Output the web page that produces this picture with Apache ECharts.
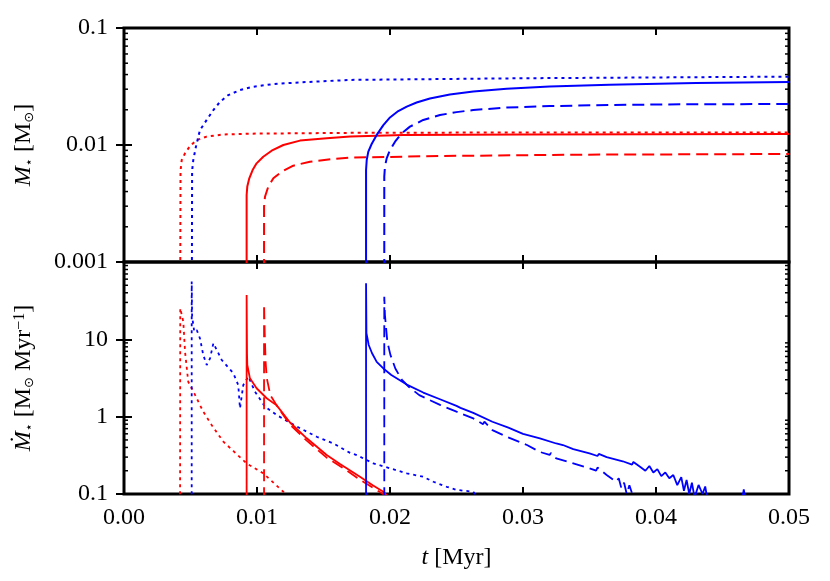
<!DOCTYPE html>
<html>
<head>
<meta charset="utf-8">
<script src="https://cdn.jsdelivr.net/npm/echarts@6/dist/echarts.min.js"></script>
<style>
  html, body { margin: 0; padding: 0; background: #fff; }
  #chart { width: 830px; height: 581px; }
</style>
</head>
<body>
<div id="chart"></div>
<script>
// ---- data: [t (Myr), value] ----
// top panel: stellar mass M* [Msun]
var massRedDotted = [[0.00421, 0.0001], [0.00425, 0.0060], [0.00434, 0.00745], [0.00459, 0.0085], [0.00496, 0.0098], [0.00547, 0.0110], [0.00622, 0.0118], [0.00747, 0.0123], [0.00947, 0.0125], [0.017, 0.0127], [0.030, 0.0128], [0.050, 0.0128]];
var massBlueDotted = [[0.00509, 0.0001], [0.00512, 0.0060], [0.00521, 0.00745], [0.00541, 0.0097], [0.00571, 0.0134], [0.00622, 0.0164], [0.00672, 0.0199], [0.00722, 0.0234], [0.00784, 0.0267], [0.00872, 0.0295], [0.00972, 0.0315], [0.01123, 0.0332], [0.01323, 0.0343], [0.017, 0.0360], [0.030, 0.0372], [0.050, 0.0384]];
var massRedSolid = [[0.00922, 0.0001], [0.00922, 0.00374], [0.00927, 0.00441], [0.00942, 0.00519], [0.00967, 0.00611], [0.00997, 0.00697], [0.01047, 0.00794], [0.0111, 0.00894], [0.01198, 0.0100], [0.01323, 0.0109], [0.01524, 0.0114], [0.017, 0.0118], [0.021, 0.0122], [0.030, 0.0123], [0.050, 0.0124]];
var massRedDashed = [[0.01053, 0.0001], [0.01053, 0.00297], [0.0106, 0.00361], [0.01085, 0.00441], [0.01123, 0.00519], [0.01186, 0.00591], [0.01273, 0.00666], [0.01398, 0.0072], [0.01574, 0.00759], [0.017, 0.0078], [0.02376, 0.00805], [0.03378, 0.00826], [0.050, 0.00838]];
var massBlueSolid = [[0.01820, 0.0001], [0.01820, 0.00611], [0.01825, 0.00745], [0.01837, 0.00877], [0.01862, 0.0102], [0.0190, 0.0122], [0.0195, 0.0148], [0.0200, 0.0172], [0.02062, 0.0195], [0.02126, 0.0213], [0.0220, 0.0231], [0.0230, 0.0250], [0.0245, 0.0270], [0.02626, 0.0286], [0.02877, 0.0303], [0.0320, 0.0316], [0.0365, 0.0328], [0.0430, 0.0339], [0.050, 0.0345]];
var massBlueDashed = [[0.01957, 0.0001], [0.01957, 0.00536], [0.01962, 0.00653], [0.01975, 0.00769], [0.0200, 0.00906], [0.02038, 0.01067], [0.02088, 0.01259], [0.0215, 0.01435], [0.0225, 0.01637], [0.02376, 0.01803], [0.0250, 0.0191], [0.02626, 0.0199], [0.02877, 0.0209], [0.0320, 0.0215], [0.0365, 0.0220], [0.0430, 0.0223], [0.050, 0.0224]];

// bottom panel: accretion rate dM*/dt [Msun/Myr]
var rateRedDotted = [[0.00421, 0.01], [0.00423, 25.2], [0.00446, 16.9], [0.00459, 6.9], [0.00483, 2.83], [0.00534, 1.91], [0.00596, 1.16], [0.00659, 0.78], [0.00747, 0.475], [0.00922, 0.249], [0.01047, 0.185], [0.01198, 0.107], [0.0122, 0.095]];
var rateBlueDotted = [[0.00509, 0.01], [0.00509, 56], [0.00512, 20], [0.00528, 12.6], [0.00547, 13.2], [0.00571, 10.3], [0.00596, 6.27], [0.00622, 4.66], [0.00647, 5.68], [0.00672, 8.9], [0.00735, 5.4], [0.00822, 3.64], [0.00859, 2.57], [0.00872, 1.28], [0.00897, 2.57], [0.00935, 3.3], [0.00985, 2.1], [0.0106, 1.35], [0.01148, 1.05], [0.01235, 0.86], [0.01323, 0.71], [0.01449, 0.55], [0.01574, 0.45], [0.0170, 0.34], [0.0175, 0.319], [0.01875, 0.249], [0.0200, 0.215], [0.02126, 0.185], [0.0225, 0.167], [0.02326, 0.144], [0.02426, 0.124], [0.0250, 0.113], [0.02626, 0.107], [0.0264, 0.098]];
var rateRedSolid = [[0.00922, 0.01], [0.00922, 37.4], [0.00925, 6.5], [0.00927, 4.66], [0.00947, 3.13], [0.00997, 2.33], [0.01073, 1.73], [0.01148, 1.40], [0.01248, 0.84], [0.01374, 0.525], [0.01524, 0.319], [0.01624, 0.245], [0.01774, 0.167], [0.0187, 0.13], [0.0195, 0.107], [0.0198, 0.095]];
var rateRedDashed = [[0.01053, 0.01], [0.01053, 28.4], [0.01058, 12], [0.01065, 5], [0.01073, 3.2], [0.0110, 1.9], [0.01148, 1.40], [0.0125, 0.78], [0.01374, 0.49], [0.01524, 0.295], [0.0165, 0.215], [0.0177, 0.155], [0.0188, 0.118], [0.0197, 0.095]];
var rateBlueSolid = [[0.01820, 0.01], [0.01820, 53], [0.01823, 12], [0.0184, 8.45], [0.01865, 6.6], [0.019, 5.1], [0.0195, 4.2], [0.0201, 3.46], [0.02126, 2.6], [0.0225, 2.05], [0.02376, 1.68], [0.0250, 1.38], [0.0253, 1.30], [0.0254, 1.36], [0.02626, 1.12], [0.0277, 0.86], [0.0289, 0.72], [0.0290, 0.76], [0.0300, 0.60], [0.03127, 0.525], [0.0325, 0.45], [0.0330, 0.43], [0.0331, 0.45], [0.03378, 0.38], [0.0350, 0.335], [0.0356, 0.31], [0.0357, 0.33], [0.03629, 0.30], [0.0375, 0.265], [0.0382, 0.24], [0.0383, 0.26], [0.0388, 0.225], [0.0392, 0.20], [0.0395, 0.23], [0.0398, 0.19], [0.0401, 0.21], [0.0404, 0.17], [0.0407, 0.19], [0.0410, 0.16], [0.0413, 0.176], [0.0416, 0.13], [0.0419, 0.165], [0.0421, 0.11], [0.0423, 0.152], [0.0425, 0.10], [0.0427, 0.14], [0.0429, 0.09], [0.0432, 0.131], [0.0435, 0.10], [0.0437, 0.125], [0.0439, 0.08], [0.0440, '-'], [0.0465, 0.09], [0.0466, 0.115], [0.0467, 0.09]];
var rateBlueDashed = [[0.01957, 0.01], [0.01957, 35.6], [0.01962, 20.6], [0.0198, 9.3], [0.02003, 6.3], [0.0204, 4.2], [0.0209, 2.98], [0.0214, 2.44], [0.0222, 1.9], [0.02376, 1.42], [0.025, 1.16], [0.02626, 0.95], [0.0270, 0.80], [0.0271, 0.86], [0.0277, 0.67], [0.02877, 0.55], [0.0303, 0.43], [0.03127, 0.35], [0.0320, 0.32], [0.0321, 0.34], [0.0325, 0.289], [0.03378, 0.249], [0.0350, 0.215], [0.0355, 0.20], [0.0356, 0.22], [0.03629, 0.176], [0.0370, 0.144], [0.0372, 0.16], [0.0374, 0.118], [0.0376, 0.14], [0.0378, 0.10], [0.0380, 0.13], [0.0383, 0.09]];

// axis ticks
var xTickLabels = ['0.00', '0.01', '0.02', '0.03', '0.04', '0.05'];
var massMinorTicks = [0.002, 0.003, 0.004, 0.005, 0.006, 0.007, 0.008, 0.009, 0.02, 0.03, 0.04, 0.05, 0.06, 0.07, 0.08, 0.09];
var rateMinorTicks = [0.2, 0.3, 0.4, 0.5, 0.6, 0.7, 0.8, 0.9, 2, 3, 4, 5, 6, 7, 8, 9, 20, 30, 40, 50, 60, 70, 80, 90];

var FONT = "'Liberation Serif', 'Times New Roman', serif";
var RED = '#ff0000', BLUE = '#0000ff';
var DOTTED = [3, 4], DASHED = [12, 6];

function xAxisDef(grid, pos, labels) {
  return {
    type: 'value', gridIndex: grid, position: pos, min: 0, max: 0.05, interval: 0.01,
    axisLine: { show: false }, splitLine: { show: false },
    axisTick: { inside: true, length: 7, lineStyle: { color: '#000', width: 2 } },
    axisLabel: {
      show: labels, margin: 12, fontFamily: FONT, fontSize: 24, color: '#000',
      formatter: function (v) { return xTickLabels[Math.round(v * 100)]; }
    }
  };
}
function yAxisDef(grid, pos, min, max, labels, hide) {
  return {
    type: 'log', logBase: 10, gridIndex: grid, position: pos, min: min, max: max,
    axisLine: { show: false }, splitLine: { show: false },
    axisTick: { inside: true, length: 8, lineStyle: { color: '#000', width: 2 } },
    axisLabel: {
      show: labels, margin: 16, fontFamily: FONT, fontSize: 24, color: '#000',
      formatter: function (v) { return v === hide ? '' : String(+v.toPrecision(3)); }
    }
  };
}

function line(name, data, color, type, grid, width) {
  return {
    name: name, type: 'line', data: data, xAxisIndex: grid * 2, yAxisIndex: grid * 2,
    showSymbol: false, clip: true, connectNulls: false, animation: false,
    lineStyle: { color: color, type: type, width: width }
  };
}

function minorTicks(grid, values) {
  return {
    type: 'custom', xAxisIndex: grid * 2, yAxisIndex: grid * 2, silent: true, animation: false, z: 10,
    data: values.map(function (v) { return [0, v]; }),
    renderItem: function (params, api) {
      var cs = params.coordSys;
      var y = api.coord([0, api.value(1)])[1];
      var st = { stroke: '#000', lineWidth: 1.5 };
      return {
        type: 'group', children: [
          { type: 'line', shape: { x1: cs.x, y1: y, x2: cs.x + 4, y2: y }, style: st },
          { type: 'line', shape: { x1: cs.x + cs.width - 4, y1: y, x2: cs.x + cs.width, y2: y }, style: st }
        ]
      };
    }
  };
}

var chart = echarts.init(document.getElementById('chart'), null, { renderer: 'canvas' });
var subStyle = { fontFamily: 'DejaVu Sans', fontSize: 13, verticalAlign: 'bottom' };
var topName = Object.assign(yAxisDef(0, 'left', 0.001, 0.1, true, null), {
  name: '{i|M}{s|⋆} [M{s|⊙}]', nameLocation: 'middle', nameGap: 88, nameRotate: 90,
  nameTextStyle: { fontFamily: FONT, fontSize: 24, color: '#000',
    rich: { i: { fontFamily: FONT, fontSize: 24, fontStyle: 'italic' }, s: subStyle } }
});
var bottomName = Object.assign(yAxisDef(1, 'left', 0.1, 100, true, 100), {
  name: '{i|Ṁ}{s|⋆} [M{s|⊙} Myr{p|−1}]', nameLocation: 'middle', nameGap: 88, nameRotate: 90,
  nameTextStyle: { fontFamily: FONT, fontSize: 24, color: '#000',
    rich: { i: { fontFamily: FONT, fontSize: 24, fontStyle: 'italic' }, s: subStyle, p: { fontFamily: FONT, fontSize: 16, verticalAlign: 'top' } } }
});
var bottomX = Object.assign(xAxisDef(1, 'bottom', true), {
  name: '{i|t} [Myr]', nameLocation: 'middle', nameGap: 52,
  nameTextStyle: { fontFamily: FONT, fontSize: 24, color: '#000', rich: { i: { fontFamily: FONT, fontSize: 24, fontStyle: 'italic' } } }
});

chart.setOption({
  backgroundColor: '#fff',
  animation: false,
  grid: [
    { left: 124, top: 28, width: 665, height: 234, show: true, borderColor: '#000', borderWidth: 3, backgroundColor: 'transparent' },
    { left: 124, top: 262, width: 665, height: 232, show: true, borderColor: '#000', borderWidth: 3, backgroundColor: 'transparent' }
  ],
  xAxis: [
    xAxisDef(0, 'bottom', false), xAxisDef(0, 'top', false),
    bottomX, xAxisDef(1, 'top', false)
  ],
  yAxis: [
    topName, yAxisDef(0, 'right', 0.001, 0.1, false, null),
    bottomName, yAxisDef(1, 'right', 0.1, 100, false, null)
  ],
  series: [
    line('M red dotted', massRedDotted, RED, DOTTED, 0, 2),
    line('M blue dotted', massBlueDotted, BLUE, DOTTED, 0, 2),
    line('M red solid', massRedSolid, RED, 'solid', 0, 2),
    line('M red dashed', massRedDashed, RED, DASHED, 0, 2),
    line('M blue solid', massBlueSolid, BLUE, 'solid', 0, 2),
    line('M blue dashed', massBlueDashed, BLUE, DASHED, 0, 2),
    line('Mdot red dotted', rateRedDotted, RED, DOTTED, 1, 1.8),
    line('Mdot blue dotted', rateBlueDotted, BLUE, DOTTED, 1, 1.8),
    line('Mdot red solid', rateRedSolid, RED, 'solid', 1, 1.8),
    line('Mdot red dashed', rateRedDashed, RED, DASHED, 1, 1.8),
    line('Mdot blue solid', rateBlueSolid, BLUE, 'solid', 1, 1.8),
    line('Mdot blue dashed', rateBlueDashed, BLUE, DASHED, 1, 1.8),
    minorTicks(0, massMinorTicks),
    minorTicks(1, rateMinorTicks)
  ]
});
</script>
</body>
</html>
